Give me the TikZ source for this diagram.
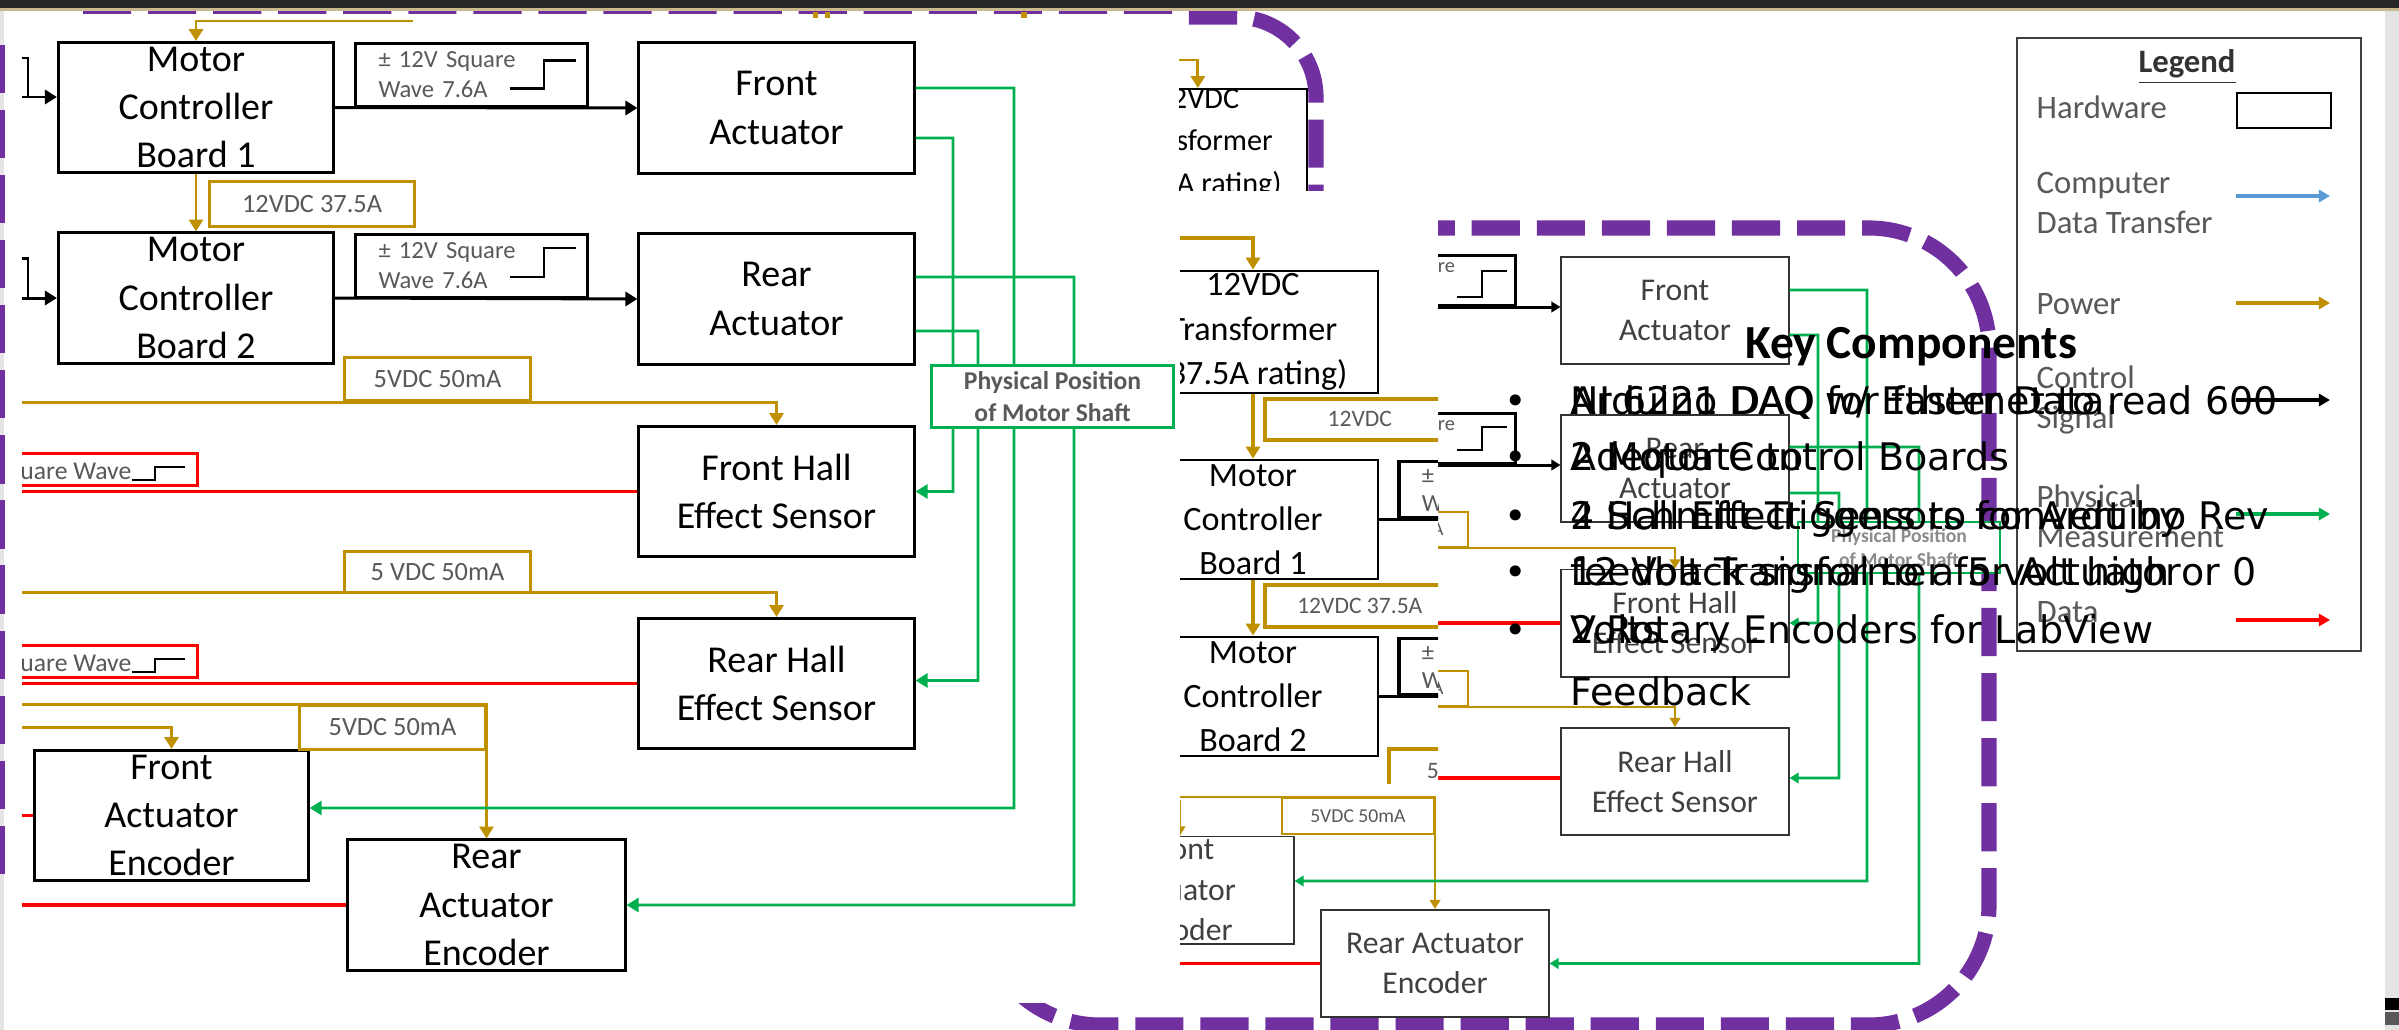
\documentclass[tikz,border=0pt]{standalone}
\usepackage{fontspec}
\setmainfont{Carlito}
\newfontfamily\bulletfont{DejaVu Sans}
\usetikzlibrary{arrows.meta}

\definecolor{pwr}{HTML}{BF9000}
\definecolor{phys}{HTML}{00B050}
\definecolor{dat}{HTML}{FF0000}
\definecolor{purp}{HTML}{7030A0}
\definecolor{comp}{HTML}{5B9BD5}
\definecolor{lbl}{HTML}{595959}
\definecolor{slidegray}{HTML}{E4E4E4}
\definecolor{barline}{HTML}{C9B98C}

\tikzset{
  % hardware boxes, the same drawing at three sizes
  hwA/.style={draw, line width=0.85pt, fill=white, align=center, inner sep=0pt,
    minimum width=2.75cm, minimum height=1.3cm, font=\fontsize{10.8}{13.7}\selectfont},
  hwB/.style={draw, line width=0.6pt, fill=white, align=center, inner sep=0pt,
    minimum width=2.18cm, minimum height=1.06cm, font=\fontsize{8.6}{12}\selectfont},
  hwC/.style={draw, line width=0.8pt, fill=white, align=center, inner sep=0pt,
    minimum width=2.5cm, font=\fontsize{9.7}{12.6}\selectfont},
  hwD/.style={draw=black!80, line width=0.55pt, fill=white, align=center, inner sep=0pt,
    text=black!75, minimum width=2.27cm, minimum height=1.07cm, font=\fontsize{9}{11.4}\selectfont},
  % labels on the wires
  vlblA/.style={draw=pwr, line width=0.85pt, fill=white, text=lbl, inner sep=0pt, font=\fontsize{7.5}{9}\selectfont},
  vlblC/.style={draw=pwr, line width=1pt, fill=white, text=lbl, inner sep=0pt, font=\fontsize{6.7}{8}\selectfont},
  vlblD/.style={draw=pwr, line width=0.6pt, fill=white, text=lbl, inner sep=0pt, font=\fontsize{5.6}{7}\selectfont},
  sqA/.style={draw, line width=0.85pt, fill=white, text=lbl, align=left, inner xsep=0.23cm, inner ysep=0pt,
    text width=1.86cm, minimum height=0.62cm, font=\fontsize{7}{8.5}\selectfont},
  sqC/.style={draw, line width=1.1pt, fill=white, text=lbl, align=left, inner xsep=0.23cm, inner ysep=0pt,
    text width=1.57cm, minimum height=0.56cm, font=\fontsize{7}{8}\selectfont},
  sqD/.style={draw, line width=0.85pt, fill=white, text=lbl, align=left, inner xsep=0.06cm, inner ysep=0pt,
    text width=1.68cm, minimum height=0.5cm, font=\fontsize{5.8}{8}\selectfont},
  swbox/.style={draw=dat, line width=0.85pt, fill=white, minimum width=2.2cm, minimum height=0.32cm, inner sep=0pt},
  posA/.style={draw=phys, line width=0.85pt, fill=white, text=lbl, align=center, inner sep=0pt,
    minimum width=2.41cm, minimum height=0.61cm, font=\bfseries\fontsize{7.3}{9}\selectfont},
  posD/.style={draw=phys, line width=0.6pt, fill=white, text=lbl!70, align=center, inner sep=0pt,
    minimum width=2.02cm, minimum height=0.51cm, font=\bfseries\fontsize{5.6}{7}\selectfont},
  % connectors
  tipA/.style={-{Triangle[width=4pt,length=3.4pt]}},
  tipD/.style={-{Triangle[width=3pt,length=2.6pt]}},
  pwrA/.style={draw=pwr, line width=0.85pt, tipA},
  ctrlA/.style={draw=black, line width=0.85pt, tipA},
  physA/.style={draw=phys, line width=0.75pt, tipA},
  datA/.style={draw=dat, line width=0.9pt},
  pwrC/.style={draw=pwr, line width=1pt, tipA},
  ctrlC/.style={draw=black, line width=1.1pt},
  pwrD/.style={draw=pwr, line width=0.75pt, tipD},
  ctrlD/.style={draw=black, line width=0.85pt, tipD},
  physD/.style={draw=phys, line width=0.75pt, tipD},
  datD/.style={draw=dat, line width=0.9pt},
  stepsym/.style={draw=black, line width=0.7pt},
  purpdash/.style={draw=purp, line width=4.3pt, dash pattern=on 13.7pt off 4.8pt},
  legtext/.style={text=lbl, align=left, inner sep=0pt, font=\fontsize{9.3}{11.4}\selectfont},
  keytext/.style={inner sep=0pt, font=\bulletfont\fontsize{10.8}{13}\selectfont},
}

\begin{document}
\begin{tikzpicture}[x=0.01cm, y=-0.01cm]
    \useasboundingbox (0,0) rectangle (2399,1030);
    \clip (0,0) rectangle (2399,1030);
    \fill[white] (0,0) rectangle (2399,1030);

    % small copy of the diagram, right
    \begin{scope}
        \clip (1438,200) rectangle (2399,1030) (1180,783) rectangle (1438,1030) (1000,1003) rectangle (1180,1030);
        \draw[purpdash, rounded corners=1.2cm] (980,228) rectangle (1989,1025);

        \node[hwD] (factD) at (1675,310.5) {Front\\Actuator};
        \node[hwD] (ractD) at (1675,468.5) {Rear\\Actuator};
        \node[hwD] (fhallD) at (1675,623) {Front Hall\\Effect Sensor};
        \node[hwD] (rhallD) at (1675,781.5) {Rear Hall\\Effect Sensor};
        \node[hwD] (faencD) at (1180,890) {Front\\Actuator\\Encoder};
        \node[hwD] (raencD) at (1435,963.5) {Rear Actuator\\Encoder};

        % control
        \node[sqD, anchor=south east] (sqD1) at (1517,307) {± 12V Square\\Wave 7.6A};
        \node[sqD, anchor=south east] (sqD2) at (1517,465) {± 12V Square\\Wave 7.6A};
        \draw[ctrlD] (sqD1.south west) -- (sqD1.south west -| factD.west);
        \draw[ctrlD] (sqD2.south west) -- (sqD2.south west -| ractD.west);
        \draw[stepsym] ([shift={(-60,-10)}]sqD1.south east) -- ++(25,0) -- ++(0,-26) -- ++(25,0);
        \draw[stepsym] ([shift={(-60,-15)}]sqD2.south east) -- ++(25,0) -- ++(0,-23) -- ++(25,0);

        % power
        \node[vlblD, anchor=south east, minimum width=1.44cm, minimum height=0.35cm] (vD1) at (1469,548) {5VDC 50mA};
        \draw[pwrD] (vD1.south west) -| (fhallD.north);
        \node[vlblD, anchor=south east, minimum width=1.44cm, minimum height=0.35cm] (vD2) at (1469,707) {5VDC 50mA};
        \draw[pwrD] (vD2.south west) -| (rhallD.north);
        \coordinate (pD3) at (1100,797);
        \coordinate (pD4) at (1100,801);
        \node[vlblD, anchor=north east, minimum width=1.52cm, minimum height=0.36cm] (vD3) at (1435,797) {5VDC 50mA};
        \draw[pwrD] (pD3) -- (vD3.north east) -- (raencD.north);
        \draw[pwrD] (pD4) -| (faencD.north);

        % data
        \draw[datD] (fhallD.west) -- ++(-200,0);
        \draw[datD] ([yshift=0.035cm]rhallD.west) -- ++(-200,0);
        \draw[datD] (raencD.west) -- ++(-300,0);

        % shaft position
        \draw[physD] ([yshift=0.205cm]factD.east) -- (1867,290) |- ([yshift=0.09cm]faencD.east);
        \draw[physD] ([yshift=-0.245cm]factD.east) -- (1818,335) |- (fhallD.east);
        \draw[physD] ([yshift=0.215cm]ractD.east) -- (1919,447) |- (raencD.east);
        \draw[physD] ([yshift=-0.245cm]ractD.east) -- (1839,493) |- ([yshift=0.035cm]rhallD.east);
        \node[posD] (posD) at (1899,547.5) {Physical Position\\of Motor Shaft};
    \end{scope}

    % border of the middle copy
    \begin{scope}
        \clip (0,0) rectangle (1340,190);
        \draw[purpdash, rounded corners=0.8cm] (83,17) -- (1316,17) -- (1316,400);
    \end{scope}

    % middle copy, top
    \begin{scope}
        \clip (1179,14) rectangle (1330,190);
        \node[hwB, anchor=north east] (xfmrB) at (1308,88) {12VDC\\Transformer\\(37.5A rating)};
        \coordinate (pB0) at (1150,60);
        \draw[pwrA] (pB0) -| (xfmrB.north);
    \end{scope}

    % middle copy, lower
    \begin{scope}
        \clip (1180,200) rectangle (1438,783);
        \fill[white] (1180,200) rectangle (1438,783);
        \node[hwC, minimum height=1.22cm] (xfmrC) at (1253,332) {12VDC\\Transformer\\(37.5A rating)};
        \node[hwC, minimum height=1.19cm] (mcbC1) at (1253,519.5) {Motor\\Controller\\Board 1};
        \node[hwC, minimum height=1.19cm] (mcbC2) at (1253,696.5) {Motor\\Controller\\Board 2};
        \coordinate (pC0) at (1150,238);
        \draw[pwrC] (pC0) -| (xfmrC.north);
        \draw[pwrC] (xfmrC.south) -- (mcbC1.north);
        \node[vlblC, anchor=north west, minimum width=1.9cm, minimum height=0.41cm] (vC1) at (1263,397) {12VDC};
        \draw[pwrC] (mcbC1.south) -- (mcbC2.north);
        \node[vlblC, anchor=north west, minimum width=1.9cm, minimum height=0.42cm] (vC2) at (1263,583) {12VDC 37.5A};
        \node[sqC, anchor=south west] (sqC1) at (1397,519.5) {± 12V Square\\Wave 7.6A};
        \node[sqC, anchor=south west] (sqC2) at (1397,696.5) {± 12V Square\\Wave 7.6A};
        \draw[ctrlC] (mcbC1.east) -- (sqC1.south east);
        \draw[ctrlC] (mcbC2.east) -- (sqC2.south east);
        \node[vlblC, anchor=north west, minimum width=1.9cm, minimum height=0.45cm] (vC3) at (1387,747) {5VDC 50mA};
    \end{scope}

    % large copy, left
    \fill[white] (4,14) rectangle (1174,1003);
    \begin{scope}
        \clip (22,14) rectangle (1179,1003);
        \node[hwA] (mcbA1) at (196,107.5) {Motor\\Controller\\Board 1};
        \node[hwA] (mcbA2) at (196,298) {Motor\\Controller\\Board 2};
        \node[hwA] (factA) at (776.5,108) {Front\\Actuator};
        \node[hwA] (ractA) at (776.5,299) {Rear\\Actuator};
        \node[hwA] (fhallA) at (776.5,491.5) {Front Hall\\Effect Sensor};
        \node[hwA] (rhallA) at (776.5,683.5) {Rear Hall\\Effect Sensor};
        \node[hwA, minimum width=2.73cm] (faencA) at (171.5,815.5) {Front\\Actuator\\Encoder};
        \node[hwA, minimum width=2.77cm] (raencA) at (486.5,905) {Rear\\Actuator\\Encoder};

        % control signals
        \coordinate (inA1) at (22,97);
        \coordinate (inA2) at (22,298);
        \draw[line width=0.85pt] (22,58) -| (28,97);
        \draw[line width=0.85pt] (22,258) -| (28,298);
        \draw[ctrlA] (inA1) -- (inA1 -| mcbA1.west);
        \draw[ctrlA] (inA2) -- (inA2 -| mcbA2.west);
        \node[sqA, anchor=south west] (sqA1) at (354,107.5) {± 12V Square\\Wave 7.6A};
        \node[sqA, anchor=south west] (sqA2) at (354,298.5) {± 12V Square\\Wave 7.6A};
        \draw[ctrlA] (mcbA1.east) -- (factA.west);
        \draw[ctrlA] (mcbA2.east) -- (ractA.west);
        \draw[stepsym] ([shift={(156,-19)}]sqA1.south west) -- ++(34,0) -- ++(0,-28) -- ++(32,0);
        \draw[stepsym] ([shift={(156,-21.5)}]sqA2.south west) -- ++(34,0) -- ++(0,-29) -- ++(32,0);

        % power
        \coordinate (pA0) at (413,21);
        \coordinate (pA2) at (22,402);
        \coordinate (pA3) at (22,592);
        \coordinate (pA4) at (22,704);
        \coordinate (pA5) at (22,727);
        \draw[pwrA] (pA0) -| (mcbA1.north);
        \draw[pwrA] (mcbA1.south) -- (mcbA2.north);
        \node[vlblA, anchor=north west, minimum width=2.05cm, minimum height=0.45cm] (vA1) at (208,180) {12VDC 37.5A};
        \draw[pwrA] (pA2) -| (fhallA.north);
        \node[vlblA, anchor=south west, minimum width=1.86cm, minimum height=0.43cm] (vA2) at (343,402) {5VDC 50mA};
        \draw[pwrA] (pA3) -| (rhallA.north);
        \node[vlblA, anchor=south west, minimum width=1.86cm, minimum height=0.41cm] (vA3) at (343,594) {5 VDC 50mA};
        \draw[pwrA] (pA4) -| (raencA.north);
        \draw[pwrA] (pA5) -| (faencA.north);
        \node[vlblA, anchor=north east, minimum width=1.85cm, minimum height=0.44cm] (vA4) at (486.5,704) {5VDC 50mA};

        % data
        \coordinate (edgeA) at (22,0);
        \draw[datA] (fhallA.west) -- (fhallA.west -| edgeA);
        \draw[datA] (rhallA.west) -- (rhallA.west -| edgeA);
        \draw[datA] (faencA.west) -- (faencA.west -| edgeA);
        \draw[datA] (raencA.west) -- (raencA.west -| edgeA);
        \node[swbox, anchor=south east] (swA1) at (199,487) {};
        \node[swbox, anchor=south east] (swA2) at (199,679) {};
        \node[text=lbl, anchor=east, inner sep=0pt, font=\fontsize{7.3}{9}\selectfont] at (132,473) {Square Wave};
        \node[text=lbl, anchor=east, inner sep=0pt, font=\fontsize{7.3}{9}\selectfont] at (132,665) {Square Wave};
        \draw[stepsym] ([shift={(-67,-7)}]swA1.south east) -- ++(23,0) -- ++(0,-13) -- ++(30,0);
        \draw[stepsym] ([shift={(-67,-7)}]swA2.south east) -- ++(23,0) -- ++(0,-13) -- ++(30,0);

        % shaft position
        \draw[physA] ([yshift=0.2cm]factA.east) -- (1014,88) |- ([yshift=0.075cm]faencA.east);
        \draw[physA] ([yshift=-0.3cm]factA.east) -- (953,138) |- (fhallA.east);
        \draw[physA] ([yshift=0.22cm]ractA.east) -- (1074,277) |- (raencA.east);
        \draw[physA] ([yshift=-0.32cm]ractA.east) -- (978,331) |- ([yshift=0.03cm]rhallA.east);
        \node[posA] (posA) at (1052.5,396.5) {Physical Position\\of Motor Shaft};
    \end{scope}
    \fill[pwr] (813,12) rectangle (818,18);
    \fill[pwr] (825,12) rectangle (830,18);
    \fill[pwr] (1021,12) rectangle (1027,18);

    % slide frame
    \fill[slidegray] (0,10) rectangle (4,1030);
    \draw[purpdash] (-3,45) -- (-3,890);
    \fill[black!85] (0,0) rectangle (2399,8);
    \fill[barline] (0,8) rectangle (2399,10.5);
    \fill[slidegray] (2385,10.5) rectangle (2399,1030);
    \fill[black] (2385,998) rectangle (2399,1010);
    \fill[black!65] (2385,1012) rectangle (2399,1025);

    % legend
    \node[draw=black!75, line width=0.6pt, anchor=north west, minimum width=3.44cm, minimum height=6.13cm] (legend) at (2016,37) {};
    \node[text=black!80, font=\bfseries\fontsize{9.3}{11}\selectfont] (leghd) at (2187,67) {\underline{Legend}};
    \foreach \yy/\txt in {107/Hardware, 203/{Computer\\Data Transfer}, 304/Power, 400/{Control\\Signal}, 516/{Physical\\Measurement}, 612/Data}
        \node[legtext, anchor=west] at (2036,\yy) {\txt};
    \node[draw, line width=0.6pt, anchor=north west, minimum width=0.94cm, minimum height=0.35cm] (leghw) at (2236,92) {};
    \foreach \yy/\cc in {196/comp, 303/pwr, 400/black, 514/phys, 620/dat}
        \draw[\cc, line width=0.9pt, -{Triangle[width=3.5pt,length=3.2pt]}] (2236,\yy) -- (2330,\yy);

    % key components, two texts printed on top of each other
    \node[inner sep=0pt, anchor=base, font=\bfseries\fontsize{13.5}{16}\selectfont] (keyhd) at (1911,358) {Key Components};
    \foreach \yy in {414,470,529,585,643}
        \node[keytext, anchor=base] at (1516,\yy) {•};
    \foreach \yy/\ta/\tb in {414/{NI 6221 DAQ for faster Data}/{Arduino DAQ w/ Ethernet to read 600},
                             470/{2 Motor Control Boards}/{Adequate to}, 
                             529/{4 Hall Effect Sensors for Arduino Rev}/{2 Schmitt Triggers to convert by},
                             585/{12 Volt Transformer for Actuator}/{feedback signal to a 5 volt high or 0},
                             643/{2 Rotary Encoders for LabView}/{Volts},
                             705/{Feedback}/{}} {
        \node[keytext, anchor=base west] at (1570,\yy) {\ta};
        \node[keytext, anchor=base west] at (1570,\yy) {\tb};
    }
\end{tikzpicture}
\end{document}
